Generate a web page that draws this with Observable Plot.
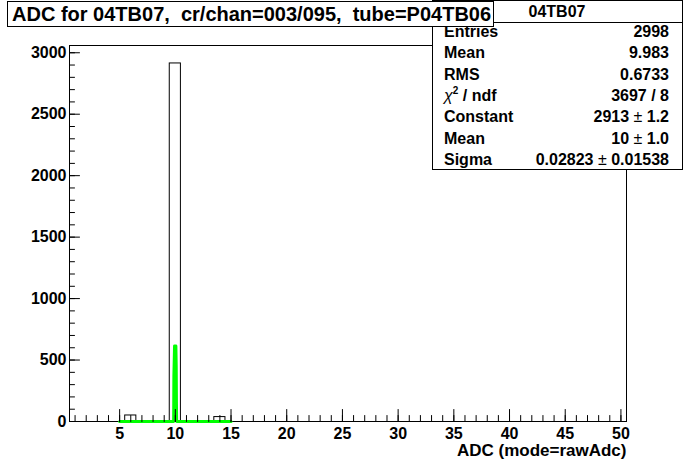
<!DOCTYPE html>
<html>
<head>
<meta charset="utf-8">
<script src="https://cdn.jsdelivr.net/npm/d3@7"></script>
<script src="https://cdn.jsdelivr.net/npm/@observablehq/plot@0.6"></script>
<style>
  html, body { margin: 0; padding: 0; background: #fff; }
  #chart { width: 696px; height: 468px; }
  text { font-family: "Liberation Sans", Arial, Helvetica, sans-serif; }
</style>
</head>
<body>
<div id="chart"></div>
<script>
// ---- data ----
const histTitle = "ADC for 04TB07,  cr/chan=003/095,  tube=P04TB06";
const statsName = "04TB07";
const xAxisLabel = "ADC (mode=rawAdc)";
const binCenters = [6, 10, 14];
const binCounts = [49, 2913, 36];
const fitX = [5.0, 9.85, 9.87, 9.93, 10.05, 10.08, 10.1, 10.12, 15.0];
const fitY = [0, 0, 370, 615, 615, 450, 150, 0, 0];
const xMajorTicks = [5, 10, 15, 20, 25, 30, 35, 40, 45, 50];
const xMinorTicks = d3.range(1, 51);
const yMajorTicks = [0, 500, 1000, 1500, 2000, 2500, 3000];
const yMinorTicks = d3.range(0, 3001, 100);
const statLabels = ["Entries", "Mean", "RMS", "chi2/ndf", "Constant", "Mean", "Sigma"];
const statValues = [["2998"], ["9.983"], ["0.6733"], ["3697 / 8"], ["2913", "1.2"], ["10", "1.0"], ["0.02823", "0.01538"]];

const FONT = '"Liberation Sans", Arial, Helvetica, sans-serif';
const bins = binCenters.map((c, i) => ({lo: c - 0.5, hi: c + 0.5, n: binCounts[i]}));
const fit = fitX.map((x, i) => ({x, y: fitY[i]}));

const tickUp = {draw(ctx, l) { ctx.moveTo(0, 0); ctx.lineTo(0, -l); }};
const tickRight = {draw(ctx, l) { ctx.moveTo(0, 0); ctx.lineTo(l, 0); }};

const svg = Plot.plot({
  width: 696,
  height: 468,
  marginLeft: 69,
  marginRight: 70,
  marginTop: 45,
  marginBottom: 47,
  style: {fontFamily: FONT, color: "black", background: "white"},
  x: {domain: [0.5, 50.5]},
  y: {domain: [0, 3059]},
  marks: [
    Plot.frame({stroke: "black", strokeWidth: 1}),
    Plot.rect(bins, {x1: "lo", x2: "hi", y1: 0, y2: "n", fill: "none", stroke: "black", strokeWidth: 1}),
    Plot.line(fit, {x: "x", y: "y", stroke: "#00ff00", strokeWidth: 3}),
    Plot.vector(xMinorTicks, {x: d => d, y: 0, length: 6, anchor: "start", shape: tickUp, stroke: "black", strokeWidth: 1}),
    Plot.vector(xMajorTicks, {x: d => d, y: 0, length: 12, anchor: "start", shape: tickUp, stroke: "black", strokeWidth: 1}),
    Plot.vector(yMinorTicks, {x: 0.5, y: d => d, length: 5, anchor: "start", shape: tickRight, stroke: "black", strokeWidth: 1}),
    Plot.vector(yMajorTicks, {x: 0.5, y: d => d, length: 10, anchor: "start", shape: tickRight, stroke: "black", strokeWidth: 1}),
    Plot.axisX(xMajorTicks, {tickSize: 0, tickPadding: 6, fontSize: 16, fontWeight: "bold", label: null, tickFormat: d => String(d)}),
    Plot.axisY(yMajorTicks, {tickSize: 0, tickPadding: 3, fontSize: 16, fontWeight: "bold", label: null, tickFormat: d => String(d)}),
    Plot.text([xAxisLabel], {frameAnchor: "bottom-right", text: d => d, textAnchor: "end", lineAnchor: "bottom", dy: 34, fontSize: 17, fontWeight: "bold"})
  ]
});

const s = d3.select(svg);
// stats box
const sb = s.append("g").attr("text-anchor", "start");
sb.append("rect").attr("x", 432.5).attr("y", 0.5).attr("width", 250).attr("height", 169)
  .attr("fill", "white").attr("stroke", "black");
const rowY = [37, 58, 79.5, 100.5, 122, 143.5, 165];
statLabels.forEach((lab, i) => {
  const t = sb.append("text").attr("x", 444).attr("y", rowY[i]).attr("text-anchor", "start")
    .attr("font-size", 16).attr("font-weight", "bold");
  if (lab === "chi2/ndf") {
    t.append("tspan").attr("font-weight", "normal").attr("font-style", "italic").text("\u03c7");
    t.append("tspan").attr("font-size", 10).attr("dy", -7).text("2");
    t.append("tspan").attr("dy", 7).text(" / ndf");
  } else {
    t.text(lab);
  }
  const v = sb.append("text").attr("x", 669).attr("y", rowY[i]).attr("text-anchor", "end")
    .attr("font-size", 16).attr("font-weight", "bold");
  const parts = statValues[i];
  if (parts.length === 1) {
    v.text(parts[0]);
  } else {
    v.append("tspan").text(parts[0] + " ");
    v.append("tspan").attr("font-weight", "normal").text("\u00b1");
    v.append("tspan").text(" " + parts[1]);
  }
});
// header band
sb.append("rect").attr("x", 433).attr("y", 1).attr("width", 249).attr("height", 21).attr("fill", "white");
sb.append("line").attr("x1", 432.5).attr("x2", 682.5).attr("y1", 22.5).attr("y2", 22.5).attr("stroke", "black");
sb.append("text").attr("x", 557).attr("y", 17).attr("text-anchor", "middle")
  .attr("font-size", 16).attr("font-weight", "bold").text(statsName);
// title box
const tb = s.append("g");
tb.append("rect").attr("x", 7.5).attr("y", 1.5).attr("width", 486).attr("height", 25)
  .attr("fill", "white").attr("stroke", "black");
tb.append("text").attr("x", 12).attr("y", 21).attr("text-anchor", "start")
  .attr("font-size", 20).attr("font-weight", "bold").text(histTitle);

document.getElementById("chart").appendChild(svg);
</script>
</body>
</html>
